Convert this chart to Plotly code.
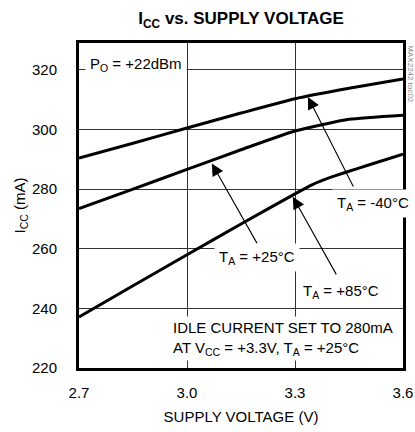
import plotly.graph_objects as go

# Supply voltage (V)
voltage = [2.7, 2.85, 3.0, 3.15, 3.3, 3.45, 3.6]
# ICC (mA) per ambient temperature
icc_m40 = [290.4, 295.4, 300.5, 305.5, 310.3, 313.8, 316.9]
icc_p25 = [273.5, 280.0, 286.6, 293.2, 299.5, 303.4, 304.8]
volt_85 = [2.7, 2.85, 3.0, 3.15, 3.3, 3.35, 3.4, 3.45, 3.5, 3.6]
icc_p85 = [237.1, 247.6, 258.0, 268.3, 278.4, 281.6, 284.0, 286.0, 287.9, 291.7]

x_ticks = [2.7, 3.0, 3.3, 3.6]
x_tick_labels = ["2.7", "3.0", "3.3", "3.6"]
y_ticks = [220, 240, 260, 280, 300, 320]

FONT = "Liberation Sans Narrow, Arial Narrow, Liberation Sans, Arial, sans-serif"
FS = 15

fig = go.Figure()
for xs, ys in [(voltage, icc_m40), (voltage, icc_p25), (volt_85, icc_p85)]:
    fig.add_trace(go.Scatter(x=xs, y=ys, mode="lines",
                             line=dict(color="black", width=3, shape="spline", smoothing=0.5),
                             showlegend=False, hoverinfo="skip"))

ann = []
# arrows (tip at x,y ; tail at ax,ay)
for tip, tail in [((3.336, 310.9), (3.464, 280.4)),
                  ((3.069, 288.6), (3.197, 261.3)),
                  ((3.294, 277.4), (3.417, 250.9))]:
    ann.append(dict(x=tip[0], y=tip[1], ax=tail[0], ay=tail[1], xref="x", yref="y",
                    axref="x", ayref="y", text="", showarrow=True, arrowhead=2,
                    arrowsize=2.2, arrowwidth=1.1, arrowcolor="black", standoff=0))

labels = [
    (2.858, 321.7, "P<sub>O</sub> = +22dBm"),
    (3.517, 275.2, "T<sub>A</sub> = -40°C"),
    (3.194, 257.2, "T<sub>A</sub> = +25°C"),
    (3.428, 245.6, "T<sub>A</sub> = +85°C"),
]
for x, y, t in labels:
    ann.append(dict(x=x, y=y, xref="x", yref="y", text=t, showarrow=False,
                    xanchor="center", yanchor="middle", bgcolor="white", borderpad=4,
                    font=dict(family=FONT, size=FS, color="black")))
ann.append(dict(x=2.953, y=229.8, xref="x", yref="y",
                text="IDLE CURRENT SET TO 280mA<br>AT V<sub>CC</sub> = +3.3V, T<sub>A</sub> = +25°C",
                showarrow=False, xanchor="left", yanchor="middle", align="left",
                bgcolor="white", borderpad=2,
                font=dict(family=FONT, size=FS, color="black")))
ann.append(dict(x=1.022, y=1.0, xref="paper", yref="paper", text="MAX2242 toc02",
                showarrow=False, textangle=90, xanchor="center", yanchor="top",
                font=dict(family=FONT, size=8, color="#888")))
# y-axis title
ann.append(dict(x=-0.182, y=0.5, xref="paper", yref="paper", text="I<sub>CC</sub> (mA)",
                showarrow=False, textangle=-90, xanchor="center", yanchor="middle",
                font=dict(family=FONT, size=FS, color="black")))

fig.update_layout(
    width=415, height=432,
    margin=dict(l=79, r=12, t=43, b=64, autoexpand=False),
    paper_bgcolor="white", plot_bgcolor="white",
    font=dict(family=FONT, size=FS, color="black"),
    title=dict(text="<b>I<sub>CC</sub> vs. SUPPLY VOLTAGE</b>", x=0.5, xref="paper",
               xanchor="center", y=0.958, yanchor="middle",
               font=dict(family=FONT, size=17, color="black")),
    annotations=ann,
)
fig.update_xaxes(range=[2.7, 3.6], tickvals=x_ticks, ticktext=x_tick_labels,
                 showgrid=True, gridcolor="#333", gridwidth=1, zeroline=False,
                 showline=True, linecolor="black", linewidth=3, mirror=True,
                 ticks="", ticklabelstandoff=9, automargin=False,
                 title=dict(text="SUPPLY VOLTAGE (V)", standoff=12,
                            font=dict(family=FONT, size=FS)))
fig.update_yaxes(range=[220, 329], tickvals=y_ticks,
                 showgrid=True, gridcolor="#333", gridwidth=1, zeroline=False,
                 showline=True, linecolor="black", linewidth=3, mirror=True,
                 ticks="", ticklabelstandoff=16, automargin=False)

fig.write_html("out.html", config={"displayModeBar": False},
               post_script="document.body.style.margin='0';")
